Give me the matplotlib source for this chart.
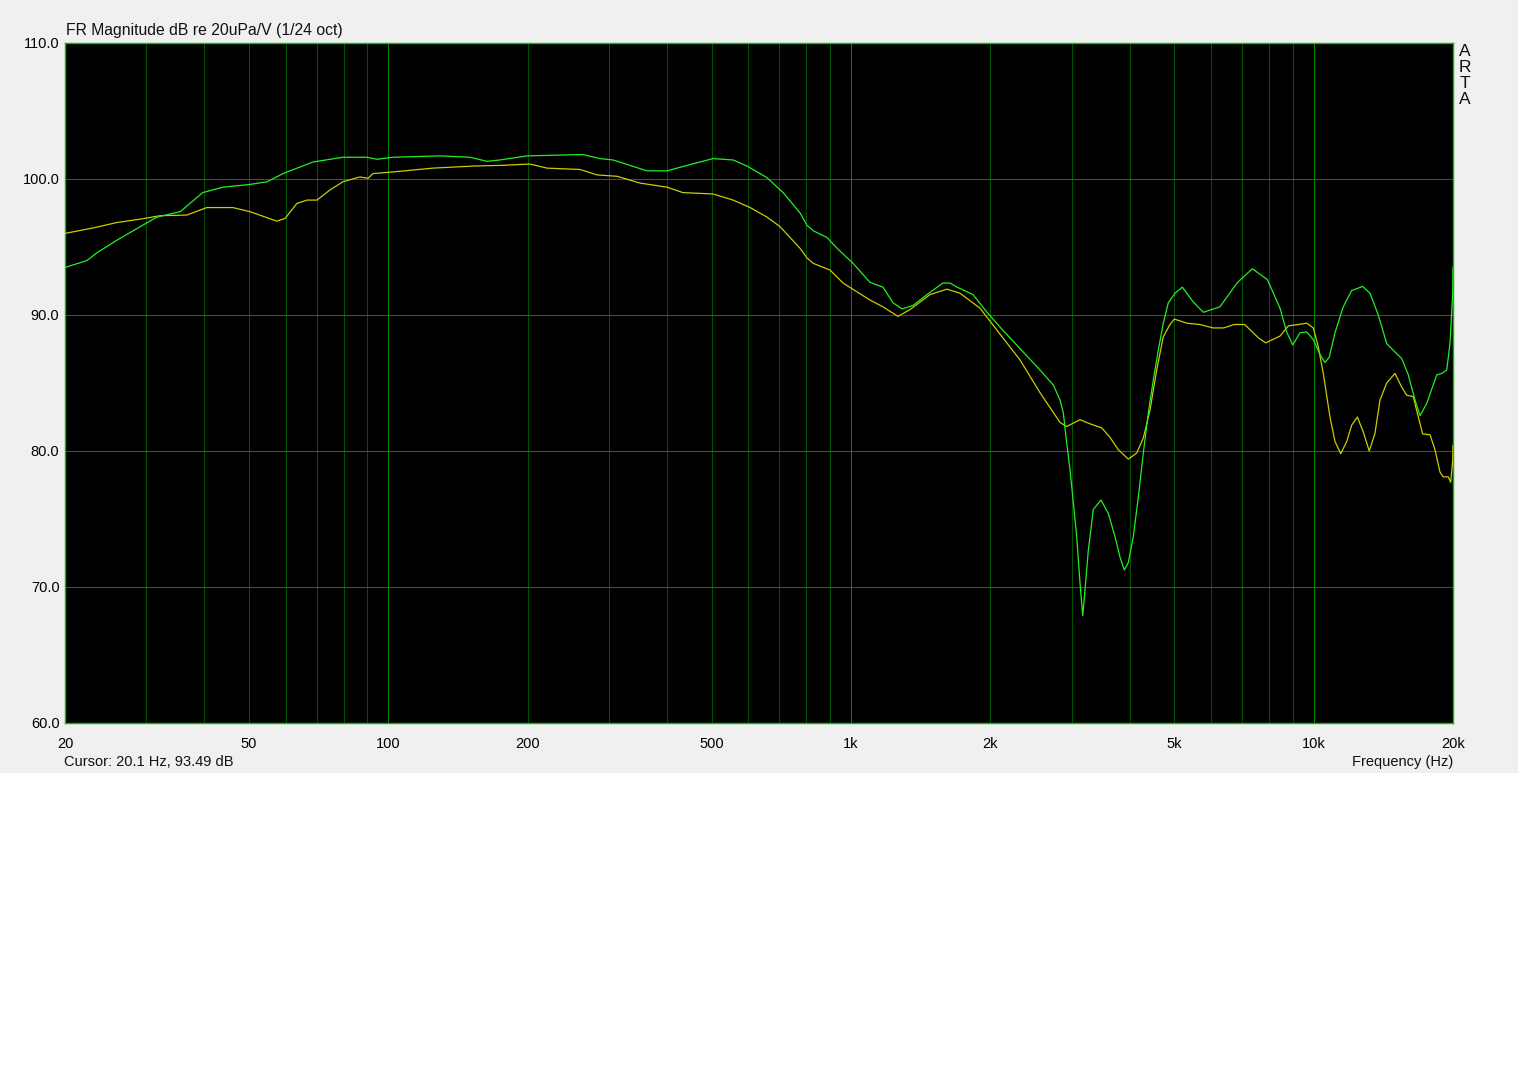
import numpy as np
import matplotlib
matplotlib.use("Agg")
import matplotlib.pyplot as plt
from matplotlib.patches import Rectangle
from matplotlib.ticker import FixedLocator, NullLocator

# ---- data ----
green_freq = [20, 22.3, 23.5, 25.9, 29.1, 31.6, 35.5, 39.7, 43.9, 50.2, 54.7, 59.2, 68.7, 79.8, 89.9,
              94.5, 102.3, 129.3, 150.1, 163.4, 174.3, 199.3, 263.4, 286.7, 305.8, 362.2, 400, 442,
              503, 556, 596, 658, 713, 776, 803, 828, 887, 933, 1010, 1099, 1172, 1232, 1289, 1361,
              1459, 1580, 1636, 1694, 1835, 1967, 2126,
              2560, 2737, 2829, 2876, 2924, 2974, 3023, 3074, 3125, 3168, 3204, 3257, 3339, 3469,
              3598, 3720, 3813, 3896, 3974, 4074, 4177, 4282, 4390, 4500, 4613, 4730, 4849, 5013,
              5200, 5493, 5773, 6270, 6845, 7370, 7940,
              8455, 8741, 9007, 9340, 9657, 9978, 10316, 10576, 10805, 11116, 11583, 12079, 12759,
              13232, 13788, 14378, 14857, 15493, 16012, 16556, 16972, 17549, 18444, 18908, 19384,
              19703, 19972, 20000]
green_db = [93.5, 94.0, 94.6, 95.5, 96.5, 97.2, 97.6, 99.0, 99.4, 99.6, 99.8, 100.4, 101.25, 101.6, 101.6,
            101.45, 101.6, 101.7, 101.6, 101.3, 101.4, 101.7, 101.8, 101.5, 101.4, 100.6, 100.6, 101.0,
            101.5, 101.4, 100.95, 100.1, 99.0, 97.5, 96.6, 96.2, 95.7, 94.9, 93.8, 92.4, 92.05, 90.9, 90.45, 90.7,
            91.5, 92.35, 92.35, 92.05, 91.5, 90.2, 88.9,
            85.96, 84.85, 83.75, 82.8, 80.6, 78.6, 76.2, 73.7, 70.3, 67.9, 69.8, 72.7, 75.7, 76.4,
            75.4, 73.7, 72.2, 71.25, 71.8, 73.7, 76.6, 79.85, 82.8, 85.2, 87.4, 89.4, 90.9, 91.6,
            92.05, 90.95, 90.2, 90.6, 92.4, 93.4, 92.6,
            90.5, 88.75, 87.8, 88.7, 88.75, 88.2, 87.1, 86.5, 86.9, 88.7, 90.6, 91.8, 92.1,
            91.6, 90.0, 87.9, 87.4, 86.8, 85.6, 83.75, 82.6, 83.5, 85.6, 85.7, 85.96,
            87.9, 91.6, 93.5]

yellow_freq = [20, 23.0, 25.9, 29.1, 32.1, 36.7, 40.5, 46.1, 50.2, 57.4, 59.8, 63.4, 66.7, 70.1, 74.8,
               79.8, 86.8, 90.4, 92.6, 100.8, 124.9, 152.4, 174.3, 202.3, 220.2, 259.5, 282.5, 312,
               349.8, 400, 433, 503, 556, 605, 658, 702, 776, 803, 828, 901, 961, 1030, 1099, 1172,
               1263, 1341, 1481, 1612, 1720, 1900, 2098, 2318,
               2560, 2691, 2829, 2924, 3125, 3284, 3482, 3628, 3781, 3974, 4143, 4282, 4427, 4577,
               4730, 4890, 4996, 5314, 5678, 6058, 6388, 6726, 7092, 7604, 7874,
               8455, 8811, 9260, 9657, 9978, 10231, 10489, 10842, 11116, 11438, 11787, 12079, 12425,
               12798, 13183, 13565, 13907, 14378, 14984, 15493, 15884, 16411, 16828, 17200, 17835,
               18285, 18744, 19058, 19537, 19770, 19972, 20000]
yellow_db = [96.0, 96.4, 96.8, 97.05, 97.3, 97.35, 97.9, 97.9, 97.6, 96.9, 97.1, 98.2, 98.45, 98.45, 99.2,
             99.8, 100.15, 100.05, 100.4, 100.5, 100.8, 100.95, 101.0, 101.1, 100.8, 100.7, 100.3, 100.2,
             99.7, 99.4, 99.0, 98.9, 98.45, 97.9, 97.2, 96.5, 94.9, 94.2, 93.8, 93.3, 92.35, 91.7, 91.1, 90.6,
             89.9, 90.4, 91.5, 91.9, 91.6, 90.5, 88.6, 86.7,
             84.3, 83.2, 82.1, 81.8, 82.3, 82.0, 81.7, 81.0, 80.1, 79.4, 79.85, 80.95, 83.0, 85.96,
             88.4, 89.3, 89.7, 89.4, 89.3, 89.05, 89.05, 89.3, 89.3, 88.3, 87.95,
             88.45, 89.2, 89.3, 89.4, 89.05, 87.65, 85.7, 82.5, 80.7, 79.8, 80.7, 81.9, 82.5,
             81.4, 80.0, 81.3, 83.75, 85.0, 85.7, 84.7, 84.1, 84.0, 82.5, 81.25, 81.2,
             80.1, 78.45, 78.1, 78.1, 77.7, 79.3, 80.4]

x_tick_values = [20, 50, 100, 200, 500, 1000, 2000, 5000, 10000, 20000]
x_tick_labels = ["20", "50", "100", "200", "500", "1k", "2k", "5k", "10k", "20k"]
y_tick_values = [60, 70, 80, 90, 100, 110]
y_tick_labels = ["60.0", "70.0", "80.0", "90.0", "100.0", "110.0"]

title_text = "FR Magnitude dB re 20uPa/V (1/24 oct)"
cursor_text = "Cursor: 20.1 Hz, 93.49 dB"
xlabel_text = "Frequency (Hz)"
brand_text = "ARTA"

# ---- figure ----
W, H = 1518, 1068
fig = plt.figure(figsize=(W / 100, H / 100), dpi=100, facecolor="white")
plt.rcParams['font.family'] = ['Liberation Sans', 'DejaVu Sans']

# grey panel behind the chart
fig.patches.append(Rectangle((0, 1 - 773 / H), 1, 773 / H, transform=fig.transFigure,
                             facecolor="#f0f0f0", edgecolor="none", zorder=-10))

left, right, top, bottom = 65, 1453, 43, 723
ax = fig.add_axes([left / W, 1 - bottom / H, (right - left) / W, (bottom - top) / H])
ax.set_facecolor("black")
ax.set_xscale("log")
ax.set_xlim(20, 20000)
ax.set_ylim(60, 110)

# grid
minor_v = [m * 10 ** e for e in (1, 2, 3) for m in range(2, 10)]
minor_v = [v for v in minor_v if 20 < v < 20000]
for v in minor_v:
    ax.axvline(v, color="#005400", lw=0.72, zorder=1, antialiased=False)
for v in (100, 1000, 10000):
    ax.axvline(v, color="#008800", lw=0.72, zorder=1, antialiased=False)
for v in y_tick_values[1:-1]:
    ax.axhline(v, color="#008000", lw=0.72, zorder=1, antialiased=False)

# curves
ax.plot(yellow_freq, yellow_db, color="#cccc00", lw=0.9, zorder=3)
ax.plot(green_freq, green_db, color="#22f022", lw=0.9, zorder=4)

# ticks
ax.xaxis.set_major_locator(FixedLocator(x_tick_values))
ax.xaxis.set_minor_locator(NullLocator())
ax.set_xticklabels(x_tick_labels)
ax.set_yticks(y_tick_values)
ax.set_yticklabels(y_tick_labels)
ax.tick_params(axis="both", length=0, labelsize=10.5, colors="black")
ax.tick_params(axis="x", pad=10)
ax.tick_params(axis="y", pad=4)

for s in ax.spines.values():
    s.set_color("#00c000")
    s.set_linewidth(1.0)

# texts
fig.text(66 / W, 1 - 31 / H, title_text, fontsize=11.3, ha="left", va="center", color="#111111")
fig.text(64 / W, 1 - 762 / H, cursor_text, fontsize=10.5, ha="left", va="center", color="#111111")
fig.text(1453 / W, 1 - 762 / H, xlabel_text, fontsize=10.5, ha="right", va="center", color="#111111")
for i, ch in enumerate(brand_text):
    fig.text(1465 / W, 1 - (51 + i * 16) / H, ch, fontsize=12.5, ha="center", va="center", color="#111111")

fig.savefig("out.png", dpi=100, facecolor=fig.get_facecolor())
